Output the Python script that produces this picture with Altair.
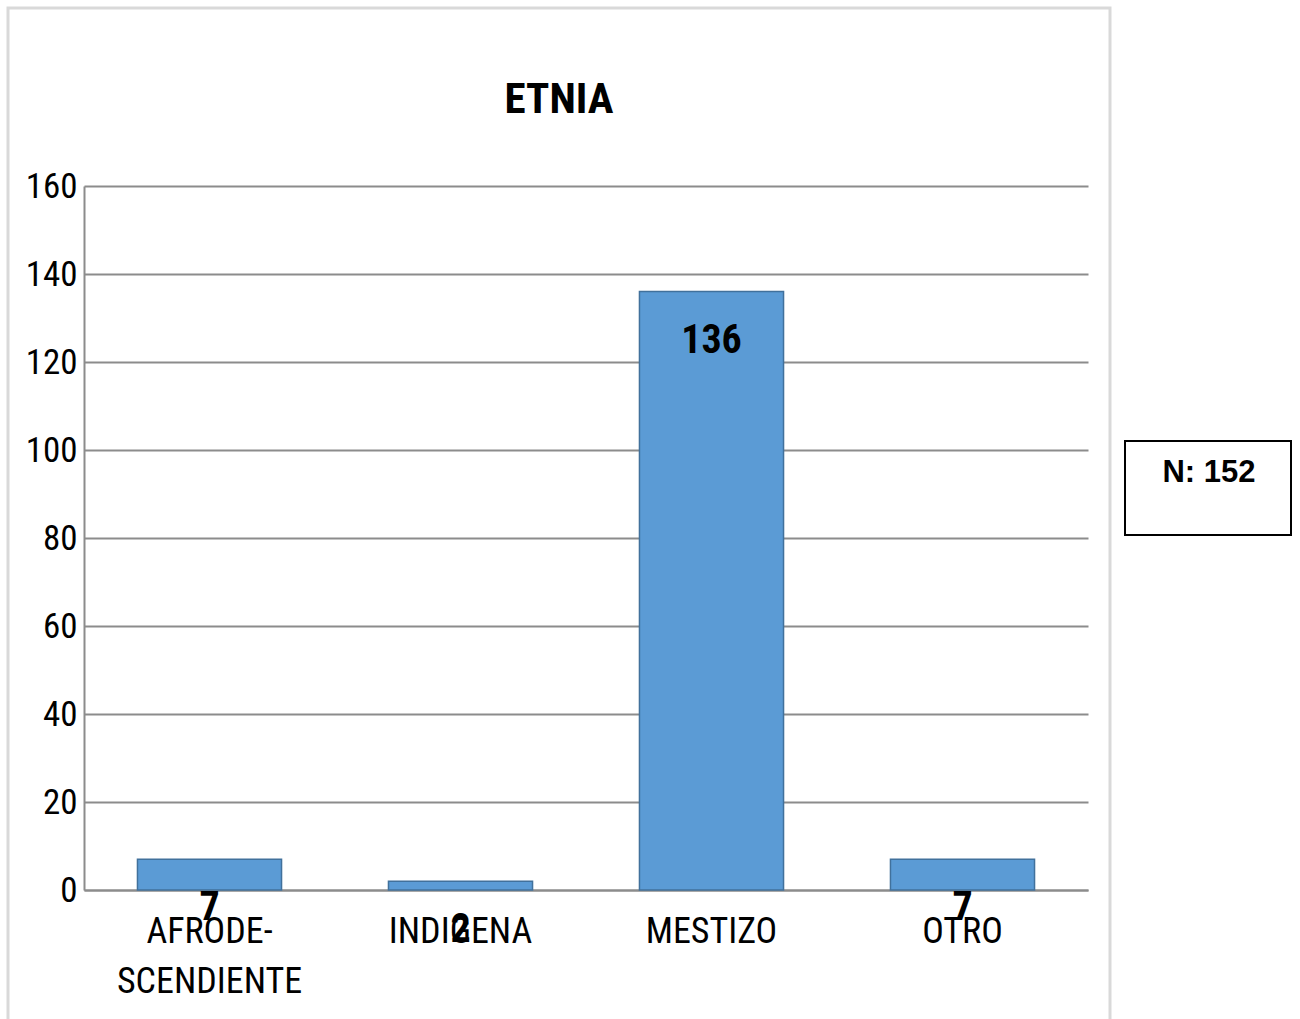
import altair as alt
import pandas as pd

# Ethnicity counts
categories = ["AFRODESCENDIENTE", "INDIGENA", "MESTIZO", "OTRO"]
counts = [7, 2, 136, 7]
y_ticks = [0, 20, 40, 60, 80, 100, 120, 140, 160]
chart_title = ["ETNIA"]
sample_note = ["N: 152"]

NARROW = "Roboto Condensed, Liberation Sans Narrow, Liberation Sans, Arial, sans-serif"
REGULAR = "Liberation Sans, Arial, sans-serif"
GRID = "#8c8c8c"

df = pd.DataFrame({"etnia": categories, "n": counts})
title_df = pd.DataFrame({"t": chart_title})
note_df = pd.DataFrame({"note": sample_note})

x_enc = alt.X(
    "etnia:N",
    sort=categories,
    title=None,
    scale=alt.Scale(paddingInner=0.426, paddingOuter=0.213),
    axis=alt.Axis(
        labelAngle=0,
        labelFont=NARROW,
        labelFontSize=36,
        labelColor="black",
        labelBaseline="alphabetic",
        labelPadding=52,
        labelLineHeight=50,
        labelLimit=0,
        ticks=False,
        domainColor=GRID,
        domainWidth=2,
        labelExpr="datum.label == 'AFRODESCENDIENTE' ? ['AFRODE-', 'SCENDIENTE'] : datum.label",
    ),
)
y_enc = alt.Y(
    "n:Q",
    title=None,
    scale=alt.Scale(domain=[0, 160], nice=False),
    axis=alt.Axis(
        values=y_ticks,
        grid=True,
        gridColor=GRID,
        gridWidth=2,
        domainColor=GRID,
        domainWidth=2,
        ticks=False,
        labelFont=NARROW,
        labelFontSize=35,
        labelColor="black",
        labelPadding=7,
    ),
)

base = alt.Chart(df)

# outer chart frame
frame = alt.Chart(title_df).mark_rect(
    fill="transparent", stroke="#d9d9d9", strokeWidth=3
).encode(
    x=alt.value(-76), x2=alt.value(1026), y=alt.value(-178), y2=alt.value(850)
)

bars = base.mark_bar(color="#5b9bd5", stroke="#41719c", strokeWidth=1.5).encode(
    x=x_enc, y=y_enc
)

values = base.mark_text(
    font=NARROW, fontSize=40, fontWeight="bold", baseline="alphabetic", dy=61, color="black"
).encode(x=alt.X("etnia:N", sort=categories), y="n:Q", text="n:Q")

title = alt.Chart(title_df).mark_text(
    font=NARROW, fontSize=43, fontWeight="bold", baseline="alphabetic", align="center", color="black"
).encode(x=alt.value(475), y=alt.value(-73), text="t:N")

note_box = alt.Chart(note_df).mark_rect(
    fill="transparent", stroke="black", strokeWidth=2
).encode(x=alt.value(1041), x2=alt.value(1207), y=alt.value(255), y2=alt.value(349))

note_text = alt.Chart(note_df).mark_text(
    font=REGULAR, fontSize=31, fontWeight="bold", baseline="alphabetic", align="center", color="black"
).encode(x=alt.value(1125), y=alt.value(296), text="note:N")

chart = (
    alt.layer(frame, bars, values, title, note_box, note_text)
    .properties(
        width=1004,
        height=704,
        padding={"left": 84, "top": 186, "right": 212, "bottom": 129},
        autosize=alt.AutoSizeParams(type="none"),
        background="white",
    )
    .configure_view(strokeWidth=0)
)

chart.save("out.html", embed_options={"renderer": "svg", "actions": False})
